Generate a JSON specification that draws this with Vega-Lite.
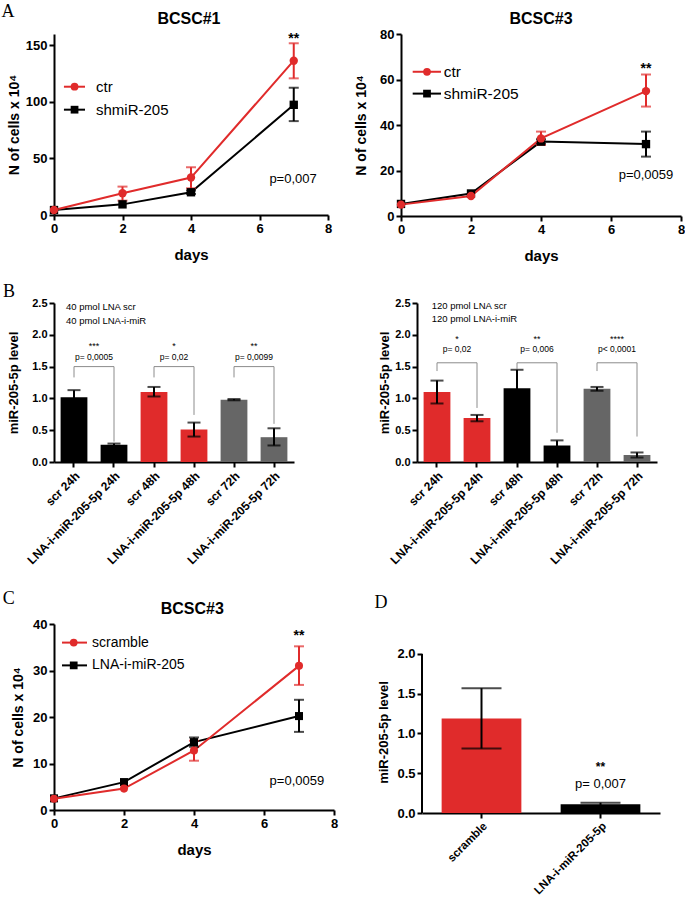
{
"$schema":"https://vega.github.io/schema/vega-lite/v6.json",
"padding":{"left":1,"top":2,"right":0,"bottom":0},
"config":{
 "view":{"stroke":null},
 "font":"Liberation Sans",
 "axis":{"domainColor":"#000","domainWidth":2,"tickColor":"#000","tickWidth":2,"tickSize":5,"labelColor":"#000","labelFontWeight":"bold","titleColor":"#000","titleFontWeight":"bold","grid":false,"labelPadding":2,"labelFlush":false}
},
"datasets":{
 "a1":[
  {"series":"shmiR-205","day":0,"n":4.4,"lo":null,"hi":null},
  {"series":"shmiR-205","day":2,"n":9.4,"lo":null,"hi":null},
  {"series":"shmiR-205","day":4,"n":20.1,"lo":18.6,"hi":21.6},
  {"series":"shmiR-205","day":7,"n":97.4,"lo":83.0,"hi":112.5},
  {"series":"ctr","day":0,"n":4.4,"lo":null,"hi":null},
  {"series":"ctr","day":2,"n":19.2,"lo":12.7,"hi":25.1},
  {"series":"ctr","day":4,"n":33.1,"lo":23.6,"hi":42.2},
  {"series":"ctr","day":7,"n":136.4,"lo":120.8,"hi":151.8}
 ],
 "a1leg":[
  {"series":"ctr","lx":0.29,"lx2":0.905,"mx":0.6,"tx":1.226,"ly":113.4},
  {"series":"shmiR-205","lx":0.29,"lx2":0.905,"mx":0.6,"tx":1.226,"ly":93.1}
 ],
 "a2":[
  {"series":"shmiR-205","day":0,"n":5.3,"lo":null,"hi":null},
  {"series":"shmiR-205","day":2,"n":9.9,"lo":null,"hi":null},
  {"series":"shmiR-205","day":4,"n":32.7,"lo":31.7,"hi":33.7},
  {"series":"shmiR-205","day":7,"n":31.6,"lo":26.1,"hi":37.1},
  {"series":"ctr","day":0,"n":5.0,"lo":null,"hi":null},
  {"series":"ctr","day":2,"n":8.8,"lo":null,"hi":null},
  {"series":"ctr","day":4,"n":34.1,"lo":31.2,"hi":37.1},
  {"series":"ctr","day":7,"n":54.9,"lo":48.1,"hi":62.2}
 ],
 "a2leg":[
  {"series":"ctr","lx":0.334,"lx2":1.143,"mx":0.743,"tx":1.22,"ly":63.4},
  {"series":"shmiR-205","lx":0.334,"lx2":1.143,"mx":0.743,"tx":1.22,"ly":53.8}
 ],
 "c":[
  {"series":"LNA-i-miR-205","day":0,"n":2.5,"lo":null,"hi":null},
  {"series":"LNA-i-miR-205","day":2,"n":6.0,"lo":null,"hi":null},
  {"series":"LNA-i-miR-205","day":4,"n":14.6,"lo":13.6,"hi":15.6},
  {"series":"LNA-i-miR-205","day":7,"n":20.2,"lo":16.8,"hi":23.7},
  {"series":"scramble","day":0,"n":2.4,"lo":null,"hi":null},
  {"series":"scramble","day":2,"n":4.6,"lo":null,"hi":null},
  {"series":"scramble","day":4,"n":12.8,"lo":10.6,"hi":14.9},
  {"series":"scramble","day":7,"n":31.0,"lo":26.9,"hi":35.2}
 ],
 "cleg":[
  {"series":"scramble","lx":0.229,"lx2":0.943,"mx":0.563,"tx":1.086,"ly":36.0},
  {"series":"LNA-i-miR-205","lx":0.229,"lx2":0.943,"mx":0.563,"tx":1.086,"ly":31.1}
 ],
 "b1":[
  {"cond":"scr 24h","time":"24h","level":1.02,"lo":0.91,"hi":1.13},
  {"cond":"LNA-i-miR-205-5p 24h","time":"24h","level":0.27,"lo":0.25,"hi":0.29},
  {"cond":"scr 48h","time":"48h","level":1.10,"lo":1.03,"hi":1.18},
  {"cond":"LNA-i-miR-205-5p 48h","time":"48h","level":0.51,"lo":0.40,"hi":0.62},
  {"cond":"scr 72h","time":"72h","level":0.98,"lo":0.97,"hi":0.99},
  {"cond":"LNA-i-miR-205-5p 72h","time":"72h","level":0.39,"lo":0.26,"hi":0.53}
 ],
 "b2":[
  {"cond":"scr 24h","time":"24h","level":1.10,"lo":0.92,"hi":1.28},
  {"cond":"LNA-i-miR-205-5p 24h","time":"24h","level":0.69,"lo":0.64,"hi":0.74},
  {"cond":"scr 48h","time":"48h","level":1.16,"lo":0.87,"hi":1.45},
  {"cond":"LNA-i-miR-205-5p 48h","time":"48h","level":0.26,"lo":0.18,"hi":0.34},
  {"cond":"scr 72h","time":"72h","level":1.15,"lo":1.12,"hi":1.18},
  {"cond":"LNA-i-miR-205-5p 72h","time":"72h","level":0.11,"lo":0.07,"hi":0.15}
 ],
 "b1br":[
  {"x1":"scr 24h","x2":"LNA-i-miR-205-5p 24h","top":1.5,"l":1.33,"r":0.32,"stars":"***","p":"p= 0,0005","ys":1.82,"yp":1.65},
  {"x1":"scr 48h","x2":"LNA-i-miR-205-5p 48h","top":1.5,"l":1.33,"r":0.74,"stars":"*","p":"p= 0,02","ys":1.82,"yp":1.65},
  {"x1":"scr 72h","x2":"LNA-i-miR-205-5p 72h","top":1.5,"l":1.33,"r":0.6,"stars":"**","p":"p= 0,0099","ys":1.82,"yp":1.65}
 ],
 "b2br":[
  {"x1":"scr 24h","x2":"LNA-i-miR-205-5p 24h","top":1.56,"l":1.43,"r":0.85,"stars":"*","p":"p= 0,02","ys":1.93,"yp":1.77},
  {"x1":"scr 48h","x2":"LNA-i-miR-205-5p 48h","top":1.56,"l":1.46,"r":0.46,"stars":"**","p":"p= 0,006","ys":1.93,"yp":1.77},
  {"x1":"scr 72h","x2":"LNA-i-miR-205-5p 72h","top":1.56,"l":1.43,"r":0.40,"stars":"****","p":"p< 0,0001","ys":1.93,"yp":1.77}
 ],
 "d":[
  {"cond":"scramble","level":1.19,"lo":0.81,"hi":1.57},
  {"cond":"LNA-i-miR-205-5p","level":0.11,"lo":0.09,"hi":0.13}
 ]
},
"resolve":{"scale":{"color":"independent","shape":"independent"},"legend":{"color":"independent","shape":"independent"}},
"spacing":23,
"vconcat":[
 {"spacing":19,
  "resolve":{"scale":{"color":"independent","shape":"independent"},"legend":{"color":"independent","shape":"independent"}},
  "vconcat":[
 {"spacing":22,
  "resolve":{"scale":{"color":"independent","shape":"independent"},"legend":{"color":"independent","shape":"independent"}},
  "hconcat":[
  {"width":274,"height":181,
   "encoding":{
    "x":{"field":"day","type":"quantitative","title":"days","scale":{"domain":[0,8],"nice":false},"axis":{"values":[0,2,4,6,8],"labelFontSize":13,"titleFontSize":15,"titlePadding":12}},
    "y":{"field":"n","type":"quantitative","title":"N of cells x 10⁴","scale":{"domain":[0,160],"nice":false},"axis":{"values":[0,50,100,150],"labelFontSize":13,"titleFontSize":14,"titlePadding":4}}
   },
   "layer":[
    {"data":{"name":"a1"},"mark":{"type":"line","strokeWidth":2},
     "encoding":{"color":{"field":"series","type":"nominal","scale":{"domain":["ctr","shmiR-205"],"range":["#e02b2b","#000000"]},"legend":null}}},
    {"data":{"name":"a1"},"mark":{"type":"rule","strokeWidth":2},
     "encoding":{"y":{"field":"lo","type":"quantitative","title":"N of cells x 10⁴"},"y2":{"field":"hi"},"color":{"field":"series","type":"nominal","legend":null}}},
    {"data":{"name":"a1"},"mark":{"type":"tick","orient":"horizontal","size":10,"thickness":2},
     "encoding":{"y":{"field":"lo","type":"quantitative","title":"N of cells x 10⁴"},"color":{"field":"series","type":"nominal","legend":null}}},
    {"data":{"name":"a1"},"mark":{"type":"tick","orient":"horizontal","size":10,"thickness":2},
     "encoding":{"y":{"field":"hi","type":"quantitative","title":"N of cells x 10⁴"},"color":{"field":"series","type":"nominal","legend":null}}},
    {"data":{"name":"a1"},"mark":{"type":"point","filled":true,"opacity":1,"size":70},
     "encoding":{"color":{"field":"series","type":"nominal","legend":null},"shape":{"field":"series","type":"nominal","scale":{"domain":["ctr","shmiR-205"],"range":["circle","square"]},"legend":null}}},
    {"data":{"name":"a1leg"},"mark":{"type":"rule","strokeWidth":2},
     "encoding":{"x":{"field":"lx","type":"quantitative","title":"days"},"x2":{"field":"lx2"},"y":{"field":"ly","type":"quantitative","title":"N of cells x 10⁴"},"color":{"field":"series","type":"nominal","legend":null}}},
    {"data":{"name":"a1leg"},"mark":{"type":"point","filled":true,"opacity":1,"size":60},
     "encoding":{"x":{"field":"mx","type":"quantitative","title":"days"},"y":{"field":"ly","type":"quantitative","title":"N of cells x 10⁴"},"color":{"field":"series","type":"nominal","legend":null},"shape":{"field":"series","type":"nominal","legend":null}}},
    {"data":{"name":"a1leg"},"mark":{"type":"text","align":"left","fontSize":15,"color":"#000"},
     "encoding":{"x":{"field":"tx","type":"quantitative","title":"days"},"y":{"field":"ly","type":"quantitative","title":"N of cells x 10⁴"},"text":{"field":"series"}}},
    {"data":{"values":[{"t":"A","day":-1.34,"n":179.7}]},"mark":{"type":"text","font":"Liberation Serif","fontSize":18,"color":"#000"},"encoding":{"text":{"field":"t"}}},
    {"data":{"values":[{"t":"BCSC#1","day":3.94,"n":173.5}]},"mark":{"type":"text","fontSize":16,"fontWeight":"bold","color":"#000"},"encoding":{"text":{"field":"t"}}},
    {"data":{"values":[{"t":"**","day":7,"n":156}]},"mark":{"type":"text","fontSize":14,"fontWeight":"bold","color":"#000"},"encoding":{"text":{"field":"t"}}},
    {"data":{"values":[{"t":"p=0,007","day":6.98,"n":32.1}]},"mark":{"type":"text","fontSize":13,"color":"#000"},"encoding":{"text":{"field":"t"}}}
   ]},
  {"width":280,"height":182,
   "encoding":{
    "x":{"field":"day","type":"quantitative","title":"days","scale":{"domain":[0,8],"nice":false},"axis":{"values":[0,2,4,6,8],"labelFontSize":13,"titleFontSize":15,"titlePadding":12}},
    "y":{"field":"n","type":"quantitative","title":"N of cells x 10⁴","scale":{"domain":[0,80],"nice":false},"axis":{"values":[0,20,40,60,80],"labelFontSize":13,"titleFontSize":14,"titlePadding":11}}
   },
   "layer":[
    {"data":{"name":"a2"},"mark":{"type":"line","strokeWidth":2},
     "encoding":{"color":{"field":"series","type":"nominal","scale":{"domain":["ctr","shmiR-205"],"range":["#e02b2b","#000000"]},"legend":null}}},
    {"data":{"name":"a2"},"mark":{"type":"rule","strokeWidth":2},
     "encoding":{"y":{"field":"lo","type":"quantitative","title":"N of cells x 10⁴"},"y2":{"field":"hi"},"color":{"field":"series","type":"nominal","legend":null}}},
    {"data":{"name":"a2"},"mark":{"type":"tick","orient":"horizontal","size":10,"thickness":2},
     "encoding":{"y":{"field":"lo","type":"quantitative","title":"N of cells x 10⁴"},"color":{"field":"series","type":"nominal","legend":null}}},
    {"data":{"name":"a2"},"mark":{"type":"tick","orient":"horizontal","size":10,"thickness":2},
     "encoding":{"y":{"field":"hi","type":"quantitative","title":"N of cells x 10⁴"},"color":{"field":"series","type":"nominal","legend":null}}},
    {"data":{"name":"a2"},"mark":{"type":"point","filled":true,"opacity":1,"size":70},
     "encoding":{"color":{"field":"series","type":"nominal","legend":null},"shape":{"field":"series","type":"nominal","scale":{"domain":["ctr","shmiR-205"],"range":["circle","square"]},"legend":null}}},
    {"data":{"name":"a2leg"},"mark":{"type":"rule","strokeWidth":2},
     "encoding":{"x":{"field":"lx","type":"quantitative","title":"days"},"x2":{"field":"lx2"},"y":{"field":"ly","type":"quantitative","title":"N of cells x 10⁴"},"color":{"field":"series","type":"nominal","legend":null}}},
    {"data":{"name":"a2leg"},"mark":{"type":"point","filled":true,"opacity":1,"size":60},
     "encoding":{"x":{"field":"mx","type":"quantitative","title":"days"},"y":{"field":"ly","type":"quantitative","title":"N of cells x 10⁴"},"color":{"field":"series","type":"nominal","legend":null},"shape":{"field":"series","type":"nominal","legend":null}}},
    {"data":{"name":"a2leg"},"mark":{"type":"text","align":"left","fontSize":15.5,"color":"#000"},
     "encoding":{"x":{"field":"tx","type":"quantitative","title":"days"},"y":{"field":"ly","type":"quantitative","title":"N of cells x 10⁴"},"text":{"field":"series"}}},
    {"data":{"values":[{"t":"BCSC#3","day":4,"n":86.6}]},"mark":{"type":"text","fontSize":16,"fontWeight":"bold","color":"#000"},"encoding":{"text":{"field":"t"}}},
    {"data":{"values":[{"t":"**","day":7,"n":64.6}]},"mark":{"type":"text","fontSize":14,"fontWeight":"bold","color":"#000"},"encoding":{"text":{"field":"t"}}},
    {"data":{"values":[{"t":"p=0,0059","day":7,"n":17.9}]},"mark":{"type":"text","fontSize":13,"color":"#000"},"encoding":{"text":{"field":"t"}}}
   ]}
 ]},
 {"spacing":84,
  "resolve":{"scale":{"color":"independent"},"legend":{"color":"independent"}},
  "hconcat":[
  {"width":240,"height":159,
   "encoding":{
    "x":{"field":"cond","type":"nominal","sort":null,"title":null,"scale":{"domain":["scr 24h","LNA-i-miR-205-5p 24h","scr 48h","LNA-i-miR-205-5p 48h","scr 72h","LNA-i-miR-205-5p 72h"],"paddingInner":0.33,"paddingOuter":0.165},"axis":{"labelAngle":-45,"labelFontSize":12,"labelPadding":3}},
    "y":{"field":"level","type":"quantitative","title":"miR-205-5p level","scale":{"domain":[0,2.5],"nice":false},"axis":{"values":[0,0.5,1,1.5,2,2.5],"format":".1f","labelFontSize":11,"titleFontSize":13,"titlePadding":11}}
   },
   "layer":[
    {"data":{"name":"b1"},"mark":{"type":"bar"},
     "encoding":{"color":{"field":"time","type":"nominal","scale":{"domain":["24h","48h","72h"],"range":["#000000","#e02b2b","#666666"]},"legend":null}}},
    {"data":{"name":"b1"},"mark":{"type":"rule","strokeWidth":2,"color":"#000"},
     "encoding":{"y":{"field":"lo","type":"quantitative","title":"miR-205-5p level"},"y2":{"field":"hi"}}},
    {"data":{"name":"b1"},"mark":{"type":"tick","orient":"horizontal","size":13,"thickness":2,"color":"#000"},
     "encoding":{"y":{"field":"lo","type":"quantitative","title":"miR-205-5p level"}}},
    {"data":{"name":"b1"},"mark":{"type":"tick","orient":"horizontal","size":13,"thickness":2,"color":"#000"},
     "encoding":{"y":{"field":"hi","type":"quantitative","title":"miR-205-5p level"}}},
    {"data":{"name":"b1br"},"mark":{"type":"rule","strokeWidth":1,"color":"#8c8c8c"},
     "encoding":{"x":{"field":"x1","type":"nominal","title":null},"y":{"field":"top","type":"quantitative","title":"miR-205-5p level"},"y2":{"field":"l"}}},
    {"data":{"name":"b1br"},"mark":{"type":"rule","strokeWidth":1,"color":"#8c8c8c"},
     "encoding":{"x":{"field":"x2","type":"nominal","title":null},"y":{"field":"top","type":"quantitative","title":"miR-205-5p level"},"y2":{"field":"r"}}},
    {"data":{"name":"b1br"},"mark":{"type":"rule","strokeWidth":1,"color":"#8c8c8c"},
     "encoding":{"x":{"field":"x1","type":"nominal","title":null},"x2":{"field":"x2"},"y":{"field":"top","type":"quantitative","title":"miR-205-5p level"}}},
    {"data":{"name":"b1br"},"mark":{"type":"text","fontSize":9,"color":"#000"},
     "encoding":{"x":{"field":"x1","type":"nominal","bandPosition":1.246,"title":null},"y":{"field":"ys","type":"quantitative","title":"miR-205-5p level"},"text":{"field":"stars"}}},
    {"data":{"name":"b1br"},"mark":{"type":"text","fontSize":8.5,"color":"#000"},
     "encoding":{"x":{"field":"x1","type":"nominal","bandPosition":1.246,"title":null},"y":{"field":"yp","type":"quantitative","title":"miR-205-5p level"},"text":{"field":"p"}}},
    {"data":{"values":[{"t":"40 pmol LNA scr","cond":"scr 24h","level":2.44},{"t":"40 pmol LNA-i-miR","cond":"scr 24h","level":2.22}]},"mark":{"type":"text","align":"left","fontSize":9.5,"color":"#000"},
     "encoding":{"x":{"field":"cond","type":"nominal","bandPosition":0.2,"title":null},"text":{"field":"t"}}},
    {"data":{"values":[{"t":"B","cond":"scr 24h","level":2.68}]},"mark":{"type":"text","font":"Liberation Serif","fontSize":18,"color":"#000"},
     "encoding":{"x":{"field":"cond","type":"nominal","bandPosition":-1.925,"title":null},"text":{"field":"t"}}}
   ]},
  {"width":240,"height":159,
   "encoding":{
    "x":{"field":"cond","type":"nominal","sort":null,"title":null,"scale":{"domain":["scr 24h","LNA-i-miR-205-5p 24h","scr 48h","LNA-i-miR-205-5p 48h","scr 72h","LNA-i-miR-205-5p 72h"],"paddingInner":0.33,"paddingOuter":0.165},"axis":{"labelAngle":-45,"labelFontSize":12,"labelPadding":3}},
    "y":{"field":"level","type":"quantitative","title":"miR-205-5p level","scale":{"domain":[0,2.5],"nice":false},"axis":{"values":[0,0.5,1,1.5,2,2.5],"format":".1f","labelFontSize":11,"titleFontSize":13,"titlePadding":3}}
   },
   "layer":[
    {"data":{"name":"b2"},"mark":{"type":"bar"},
     "encoding":{"color":{"field":"time","type":"nominal","scale":{"domain":["24h","48h","72h"],"range":["#e02b2b","#000000","#666666"]},"legend":null}}},
    {"data":{"name":"b2"},"mark":{"type":"rule","strokeWidth":2,"color":"#000"},
     "encoding":{"y":{"field":"lo","type":"quantitative","title":"miR-205-5p level"},"y2":{"field":"hi"}}},
    {"data":{"name":"b2"},"mark":{"type":"tick","orient":"horizontal","size":13,"thickness":2,"color":"#000"},
     "encoding":{"y":{"field":"lo","type":"quantitative","title":"miR-205-5p level"}}},
    {"data":{"name":"b2"},"mark":{"type":"tick","orient":"horizontal","size":13,"thickness":2,"color":"#000"},
     "encoding":{"y":{"field":"hi","type":"quantitative","title":"miR-205-5p level"}}},
    {"data":{"name":"b2br"},"mark":{"type":"rule","strokeWidth":1,"color":"#8c8c8c"},
     "encoding":{"x":{"field":"x1","type":"nominal","title":null},"y":{"field":"top","type":"quantitative","title":"miR-205-5p level"},"y2":{"field":"l"}}},
    {"data":{"name":"b2br"},"mark":{"type":"rule","strokeWidth":1,"color":"#8c8c8c"},
     "encoding":{"x":{"field":"x2","type":"nominal","title":null},"y":{"field":"top","type":"quantitative","title":"miR-205-5p level"},"y2":{"field":"r"}}},
    {"data":{"name":"b2br"},"mark":{"type":"rule","strokeWidth":1,"color":"#8c8c8c"},
     "encoding":{"x":{"field":"x1","type":"nominal","title":null},"x2":{"field":"x2"},"y":{"field":"top","type":"quantitative","title":"miR-205-5p level"}}},
    {"data":{"name":"b2br"},"mark":{"type":"text","fontSize":9,"color":"#000"},
     "encoding":{"x":{"field":"x1","type":"nominal","bandPosition":1.246,"title":null},"y":{"field":"ys","type":"quantitative","title":"miR-205-5p level"},"text":{"field":"stars"}}},
    {"data":{"name":"b2br"},"mark":{"type":"text","fontSize":8.5,"color":"#000"},
     "encoding":{"x":{"field":"x1","type":"nominal","bandPosition":1.246,"title":null},"y":{"field":"yp","type":"quantitative","title":"miR-205-5p level"},"text":{"field":"p"}}},
    {"data":{"values":[{"t":"120 pmol LNA scr","cond":"scr 24h","level":2.45},{"t":"120 pmol LNA-i-miR","cond":"scr 24h","level":2.25}]},"mark":{"type":"text","align":"left","fontSize":9.5,"color":"#000"},
     "encoding":{"x":{"field":"cond","type":"nominal","bandPosition":0.3,"title":null},"text":{"field":"t"}}}
   ]}
 ]}
 ]},
 {"spacing":36,
  "resolve":{"scale":{"color":"independent","shape":"independent"},"legend":{"color":"independent","shape":"independent"}},
  "hconcat":[
  {"width":280,"height":186,
   "encoding":{
    "x":{"field":"day","type":"quantitative","title":"days","scale":{"domain":[0,8],"nice":false},"axis":{"values":[0,2,4,6,8],"labelFontSize":13,"titleFontSize":15,"titlePadding":12}},
    "y":{"field":"n","type":"quantitative","title":"N of cells x 10⁴","scale":{"domain":[0,40],"nice":false},"axis":{"values":[0,10,20,30,40],"labelFontSize":13,"titleFontSize":14,"titlePadding":7}}
   },
   "layer":[
    {"data":{"name":"c"},"mark":{"type":"line","strokeWidth":2},
     "encoding":{"color":{"field":"series","type":"nominal","scale":{"domain":["scramble","LNA-i-miR-205"],"range":["#e02b2b","#000000"]},"legend":null}}},
    {"data":{"name":"c"},"mark":{"type":"rule","strokeWidth":2},
     "encoding":{"y":{"field":"lo","type":"quantitative","title":"N of cells x 10⁴"},"y2":{"field":"hi"},"color":{"field":"series","type":"nominal","legend":null}}},
    {"data":{"name":"c"},"mark":{"type":"tick","orient":"horizontal","size":10,"thickness":2},
     "encoding":{"y":{"field":"lo","type":"quantitative","title":"N of cells x 10⁴"},"color":{"field":"series","type":"nominal","legend":null}}},
    {"data":{"name":"c"},"mark":{"type":"tick","orient":"horizontal","size":10,"thickness":2},
     "encoding":{"y":{"field":"hi","type":"quantitative","title":"N of cells x 10⁴"},"color":{"field":"series","type":"nominal","legend":null}}},
    {"data":{"name":"c"},"mark":{"type":"point","filled":true,"opacity":1,"size":65},
     "encoding":{"color":{"field":"series","type":"nominal","legend":null},"shape":{"field":"series","type":"nominal","scale":{"domain":["scramble","LNA-i-miR-205"],"range":["circle","square"]},"legend":null}}},
    {"data":{"name":"cleg"},"mark":{"type":"rule","strokeWidth":2},
     "encoding":{"x":{"field":"lx","type":"quantitative","title":"days"},"x2":{"field":"lx2"},"y":{"field":"ly","type":"quantitative","title":"N of cells x 10⁴"},"color":{"field":"series","type":"nominal","legend":null}}},
    {"data":{"name":"cleg"},"mark":{"type":"point","filled":true,"opacity":1,"size":60},
     "encoding":{"x":{"field":"mx","type":"quantitative","title":"days"},"y":{"field":"ly","type":"quantitative","title":"N of cells x 10⁴"},"color":{"field":"series","type":"nominal","legend":null},"shape":{"field":"series","type":"nominal","legend":null}}},
    {"data":{"name":"cleg"},"mark":{"type":"text","align":"left","fontSize":14,"color":"#000"},
     "encoding":{"x":{"field":"tx","type":"quantitative","title":"days"},"y":{"field":"ly","type":"quantitative","title":"N of cells x 10⁴"},"text":{"field":"series"}}},
    {"data":{"values":[{"t":"C","day":-1.29,"n":45.4}]},"mark":{"type":"text","font":"Liberation Serif","fontSize":18,"color":"#000"},"encoding":{"text":{"field":"t"}}},
    {"data":{"values":[{"t":"BCSC#3","day":3.95,"n":43.2}]},"mark":{"type":"text","fontSize":16,"fontWeight":"bold","color":"#000"},"encoding":{"text":{"field":"t"}}},
    {"data":{"values":[{"t":"**","day":7,"n":37.4}]},"mark":{"type":"text","fontSize":14,"fontWeight":"bold","color":"#000"},"encoding":{"text":{"field":"t"}}},
    {"data":{"values":[{"t":"p=0,0059","day":6.94,"n":6.3}]},"mark":{"type":"text","fontSize":13,"color":"#000"},"encoding":{"text":{"field":"t"}}}
   ]},
  {"width":238,"height":189,
   "encoding":{
    "x":{"field":"cond","type":"nominal","sort":null,"title":null,"scale":{"domain":["scramble","LNA-i-miR-205-5p"],"paddingInner":0.33,"paddingOuter":0.165},"axis":{"labelAngle":-45,"labelFontSize":11.5,"labelPadding":2}},
    "y":{"field":"level","type":"quantitative","title":"miR-205-5p level","scale":{"domain":[0,2.377],"nice":false},"axis":{"values":[0,0.5,1,1.5,2],"format":".1f","labelFontSize":13,"titleFontSize":13,"titlePadding":6,"domain":false,"titleY":108}}
   },
   "layer":[
    {"data":{"name":"d"},"mark":{"type":"bar"},
     "encoding":{"color":{"field":"cond","type":"nominal","scale":{"domain":["scramble","LNA-i-miR-205-5p"],"range":["#e02b2b","#000000"]},"legend":null}}},
    {"data":{"name":"d"},"mark":{"type":"rule","strokeWidth":2,"color":"#000"},
     "encoding":{"y":{"field":"lo","type":"quantitative","title":"miR-205-5p level"},"y2":{"field":"hi"}}},
    {"data":{"name":"d"},"mark":{"type":"tick","orient":"horizontal","size":40,"thickness":2,"color":"#000"},
     "encoding":{"y":{"field":"lo","type":"quantitative","title":"miR-205-5p level"}}},
    {"data":{"name":"d"},"mark":{"type":"tick","orient":"horizontal","size":40,"thickness":2,"color":"#000"},
     "encoding":{"y":{"field":"hi","type":"quantitative","title":"miR-205-5p level"}}},
    {"data":{"values":[{"cond":"scramble","level":0,"hi":2}]},"mark":{"type":"rule","strokeWidth":2,"color":"#000"},
     "encoding":{"x":{"field":"cond","type":"nominal","bandPosition":-0.2463,"title":null},"y2":{"field":"hi"}}},
    {"data":{"values":[{"t":"D","cond":"scramble","level":2.645}]},"mark":{"type":"text","font":"Liberation Serif","fontSize":18,"color":"#000"},
     "encoding":{"x":{"field":"cond","type":"nominal","bandPosition":-0.76,"title":null},"text":{"field":"t"}}},
    {"data":{"values":[{"t":"**","cond":"LNA-i-miR-205-5p","level":0.576}]},"mark":{"type":"text","fontSize":12,"fontWeight":"bold","color":"#000"},"encoding":{"text":{"field":"t"}}},
    {"data":{"values":[{"t":"p= 0,007","cond":"LNA-i-miR-205-5p","level":0.365}]},"mark":{"type":"text","fontSize":13,"color":"#000"},"encoding":{"text":{"field":"t"}}}
   ]}
 ]}
]
}
